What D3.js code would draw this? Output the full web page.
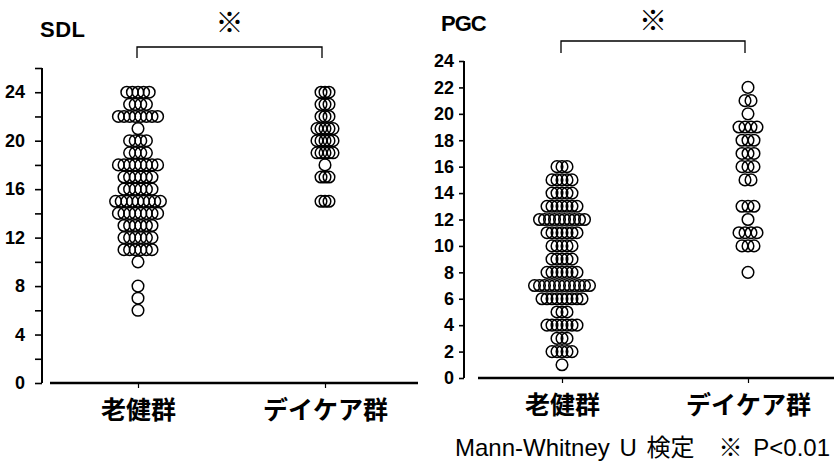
<!DOCTYPE html>
<html>
<head>
<meta charset="utf-8">
<script src="https://cdn.jsdelivr.net/npm/d3@7"></script>
<style>
  body { margin: 0; background: #fff; }
  svg { display: block; }
  .tick text { font-family: "Liberation Sans", Arial, sans-serif; font-weight: bold; }
  .cat .tick text { font-family: "Noto Sans CJK JP", sans-serif; font-weight: bold; }
</style>
</head>
<body>
<div id="chart"></div>
<script>
// groups on the x axis
var groups = ["老健群", "デイケア群"];

// SDL, 老健群: score and how many persons had it
var sdlRokenValues = [24, 23, 22, 21, 20, 19, 18, 17, 16, 15, 14, 13, 12, 11, 10, 8, 7, 6];
var sdlRokenCounts = [5, 4, 8, 1, 4, 4, 8, 6, 6, 9, 8, 6, 6, 6, 1, 1, 1, 1];
// SDL, デイケア群
var sdlDayValues = [24, 23, 22, 21, 20, 19, 18, 17, 15];
var sdlDayCounts = [3, 3, 3, 5, 5, 5, 1, 3, 3];

// PGC, 老健群
var pgcRokenValues = [16, 15, 14, 13, 12, 11, 10, 9, 8, 7, 6, 5, 4, 3, 2, 1];
var pgcRokenCounts = [3, 5, 5, 7, 10, 7, 5, 5, 7, 12, 9, 3, 7, 3, 5, 1];
// PGC, デイケア群
var pgcDayValues = [22, 21, 20, 19, 18, 17, 16, 15, 13, 12, 11, 10, 8];
var pgcDayCounts = [1, 2, 1, 4, 3, 3, 3, 2, 3, 1, 4, 3, 1];

// tick labels
var sdlTicks = [0, 4, 8, 12, 16, 20, 24];
var sdlMinorTicks = [2, 6, 10, 14, 18, 22, 26];
var pgcTicks = [0, 2, 4, 6, 8, 10, 12, 14, 16, 18, 20, 22, 24];

var footTest = "Mann-Whitney U 検定";
var footMark = "※ P<0.01";

var svg = d3.select("#chart").append("svg")
    .attr("width", 834)
    .attr("height", 461);

// one dot per person, spread sideways around the group centre
function expand(values, counts, group, step) {
  var out = [];
  values.forEach(function(v, i) {
    var n = counts[i];
    for (var k = 0; k < n; k++) {
      out.push({ group: group, value: v, off: (k - (n - 1) / 2) * step });
    }
  });
  return out;
}

function drawPanel(p) {
  var g = svg.append("g");

  var y = d3.scaleLinear().domain(p.yDomain).range(p.yRange);
  var x = d3.scalePoint().domain(groups).range(p.xRange);

  // y axis
  var ya = g.append("g")
      .attr("transform", "translate(" + p.axisX + ",0)")
      .call(d3.axisLeft(y).tickValues(p.ticks).tickSize(p.tickSize).tickPadding(p.tickPad).tickSizeOuter(0));
  ya.select(".domain").remove();
  ya.selectAll(".tick line").attr("stroke", "#000").attr("stroke-width", 1.6);
  ya.selectAll(".tick text").attr("fill", "#000").style("font-size", "18px");

  if (p.minor) {
    var ym = g.append("g")
        .attr("transform", "translate(" + p.axisX + ",0)")
        .call(d3.axisLeft(y).tickValues(p.minor).tickSize(p.tickSize).tickFormat(""));
    ym.select(".domain").remove();
    ym.selectAll(".tick line").attr("stroke", "#000").attr("stroke-width", 1.6);
  }

  g.append("line")
      .attr("x1", p.axisX).attr("x2", p.axisX)
      .attr("y1", y(0)).attr("y2", y(p.yDomain[1]))
      .attr("stroke", "#000").attr("stroke-width", 2);

  // x axis line, not joined to the y axis
  g.append("line")
      .attr("x1", p.baseX[0]).attr("x2", p.baseX[1])
      .attr("y1", y(0)).attr("y2", y(0))
      .attr("stroke", "#000").attr("stroke-width", 2.4);

  var xa = g.append("g")
      .attr("class", "cat")
      .attr("transform", "translate(0," + y(0) + ")")
      .call(d3.axisBottom(x).tickSize(5).tickPadding(13));
  xa.select(".domain").remove();
  xa.selectAll(".tick line").attr("stroke", "#000").attr("stroke-width", 1.2);
  xa.selectAll(".tick text").attr("fill", "#000").style("font-size", "25px");

  // dots
  g.selectAll(".dot")
      .data(p.dots)
    .enter().append("circle")
      .attr("class", "dot")
      .attr("cx", function(d) { return x(d.group) + d.off; })
      .attr("cy", function(d) { return y(d.value); })
      .attr("r", 5.8)
      .attr("fill", "none")
      .attr("stroke", "#000")
      .attr("stroke-width", 1.5);

  // title
  g.append("text")
      .attr("x", p.titleX).attr("y", p.titleY)
      .style("font-family", "Liberation Sans, Arial, sans-serif")
      .style("font-weight", "bold")
      .style("font-size", "22px")
      .style("letter-spacing", p.titleSpacing)
      .text(p.title);

  // significance bracket
  var bx0 = x(groups[0]) - 1, bx1 = x(groups[1]) - 3;
  g.append("path")
      .attr("d", "M" + bx0 + "," + p.bracketBottom + "V" + p.bracketY + "H" + bx1 + "V" + p.bracketBottom)
      .attr("fill", "none")
      .attr("stroke", "#000")
      .attr("stroke-width", 1.3);

  g.append("text")
      .attr("x", (bx0 + bx1) / 2)
      .attr("y", p.markY)
      .attr("text-anchor", "middle")
      .style("font-family", "Noto Sans CJK JP, sans-serif")
      .style("font-size", "28px")
      .text("※");
}

drawPanel({
  title: "SDL", titleX: 40, titleY: 37, titleSpacing: "0.5px",
  yDomain: [0, 26], yRange: [383, 68],
  xRange: [138, 325], axisX: 42, baseX: [50, 418],
  ticks: sdlTicks, minor: sdlMinorTicks, tickSize: 7, tickPad: 10,
  bracketY: 47, bracketBottom: 58, markY: 33,
  dots: expand(sdlRokenValues, sdlRokenCounts, groups[0], 5.6)
    .concat(expand(sdlDayValues, sdlDayCounts, groups[1], 4))
});

drawPanel({
  title: "PGC", titleX: 441, titleY: 31, titleSpacing: "-1px",
  yDomain: [0, 24], yRange: [378, 61],
  xRange: [562, 748], axisX: 464, baseX: [478, 834],
  ticks: pgcTicks, minor: null, tickSize: 5, tickPad: 5,
  bracketY: 41, bracketBottom: 53, markY: 31,
  dots: expand(pgcRokenValues, pgcRokenCounts, groups[0], 5)
    .concat(expand(pgcDayValues, pgcDayCounts, groups[1], 6))
});

// footnote: test name, then the significance mark
svg.append("text")
    .attr("x", 455)
    .attr("y", 456)
    .style("font-family", "Liberation Sans, Noto Sans CJK JP, sans-serif")
    .style("font-size", "24px")
    .style("word-spacing", "3px")
    .text(footTest);

svg.append("text")
    .attr("x", 830)
    .attr("y", 456)
    .attr("text-anchor", "end")
    .style("font-family", "Liberation Sans, Noto Sans CJK JP, sans-serif")
    .style("font-size", "24px")
    .style("word-spacing", "4px")
    .text(footMark);
</script>
</body>
</html>
